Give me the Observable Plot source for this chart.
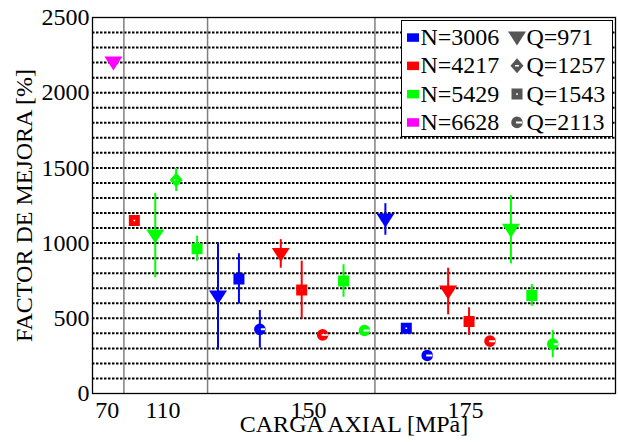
<!DOCTYPE html>
<html><head><meta charset="utf-8">
<script src="https://cdn.jsdelivr.net/npm/d3@7"></script>
<script src="https://cdn.jsdelivr.net/npm/@observablehq/plot@0.6"></script>
<style>
body{margin:0;background:#fff;}
#wrap{position:relative;width:618px;height:442px;}
#legend{position:absolute;left:401px;top:20px;}
svg, svg text{font-family:"Liberation Serif","Times New Roman",Times,"DejaVu Serif",serif !important;}
</style></head><body><div id="wrap"></div>
<script>
// ---- data ----
const xTickLabels = ["70", "110", "150", "175"];
const groupOf = ["70","110","110","110","110","150","150","150","150","150","150","150","150","175","175","175","175","175","175","175","175","175"];
const seriesN = ["6628","4217","5429","5429","5429","3006","3006","3006","4217","4217","4217","5429","5429","3006","3006","3006","4217","4217","4217","5429","5429","5429"];
const seriesQ = ["971","1543","971","1257","1543","971","1543","2113","971","1543","2113","1543","2113","971","1543","2113","971","1543","2113","971","1543","2113"];
const values = [2200,1150,1050,1420,963,645,762,427,928,688,390,748,419,1157,434,253,678,478,348,1089,652,328];
const errors = [0,0,280,77,83,355,167,125,95,192,0,108,0,105,0,0,155,92,0,227,72,91];
const nLabels = ["3006", "4217", "5429", "6628"];
const qLabels = ["971", "1257", "1543", "2113"];
const yTitle = "FACTOR DE MEJORA [%]";
const xTitle = "CARGA AXIAL [MPa]";

// ---- styling ----
const nColors = ["#0000ff", "#ff0000", "#00ff00", "#ff00ff"];
const xTickPos = [0.7, 3.37, 10.33, 17.83];
const FONT = "\"Liberation Serif\", \"Times New Roman\", Times, \"DejaVu Serif\", serif";

function hole(c, x0, y0, x1, y1) { // counter-winding rectangle -> hole
  c.moveTo(x0, y0); c.lineTo(x0, y1); c.lineTo(x1, y1); c.lineTo(x1, y0); c.closePath();
}
const triDown = {draw(c) { c.moveTo(-9, -6); c.lineTo(9, -6); c.lineTo(0, 8); c.closePath(); }};
const diamond = {draw(c) { c.moveTo(0, -7.5); c.lineTo(6.5, 0); c.lineTo(0, 7.5); c.lineTo(-6.5, 0); c.closePath(); hole(c, -2, -0.8, 2, 0.8); }};
const square = {draw(c) { c.moveTo(-5.5, -5.5); c.lineTo(5.5, -5.5); c.lineTo(5.5, 5.5); c.lineTo(-5.5, 5.5); c.closePath(); hole(c, -0.8, -0.8, 0.8, 0.8); }};
const circle = {draw(c) { const r = 5.8; c.moveTo(r, 0); c.arc(0, 0, r, 0, 2 * Math.PI); hole(c, -1, -1, r - 0.6, 1); }};
const qSymbols = [triDown, diamond, square, circle];

const data = values.map((v, i) => ({slot: i + 1, g: groupOf[i], n: seriesN[i], q: seriesQ[i], v, e: errors[i]}));
const seps = data.slice(1).filter((d, i) => d.g !== data[i].g).map(d => d.slot - 0.5);

const chart = Plot.plot({
  width: 618, height: 442,
  marginLeft: 92, marginRight: 3, marginTop: 17, marginBottom: 49,
  style: {fontFamily: FONT, fontSize: "24px", color: "#000", background: "#fff", overflow: "visible"},
  x: {domain: [0, 25]},
  y: {domain: [0, 2500]},
  color: {domain: nLabels, range: nColors},
  symbol: {domain: qLabels, range: qSymbols},
  marks: [
    Plot.ruleY(d3.range(100, 2500, 100), {stroke: "#000", strokeWidth: 2, strokeDasharray: "2.5,1.5"}),
    Plot.ruleX(seps, {stroke: "#808080", strokeWidth: 1.5}),
    Plot.ruleX(data.filter(d => d.e > 0), {x: "slot", y1: d => d.v - d.e, y2: d => d.v + d.e, stroke: "n", strokeWidth: 2}),
    Plot.dot(data, {x: "slot", y: "v", fill: "n", symbol: "q", r: 6, stroke: "none"}),
    Plot.axisY({ticks: d3.range(0, 2501, 500), tickFormat: d => String(d), tickSize: 0, tickPadding: 3, label: null, fontSize: 24}),
    Plot.axisX({ticks: xTickPos, tickFormat: d => xTickLabels[xTickPos.indexOf(d)], tickSize: 0, tickPadding: 7, label: null, fontSize: 24}),
    Plot.text([yTitle], {text: d => d, frameAnchor: "left", textAnchor: "middle", rotate: -90, dx: -68, fontSize: 24, lineAnchor: "middle"}),
    Plot.text([xTitle], {text: d => d, frameAnchor: "bottom", textAnchor: "middle", dy: 31, fontSize: 24, lineAnchor: "middle"}),
    Plot.frame({stroke: "#000", strokeWidth: 1.3})
  ]
});
document.getElementById("wrap").appendChild(chart);

// ---- legend ----
const L = d3.select("#wrap").append("svg").attr("id", "legend").attr("width", 213).attr("height", 118)
  .style("font-size", "24px");
L.append("rect").attr("x", 0.5).attr("y", 0.5).attr("width", 211).attr("height", 116).attr("fill", "#fff").attr("stroke", "#000");
nLabels.forEach((n, i) => {
  const by = 25 + i * 28.3;
  L.append("rect").attr("x", 6).attr("y", by - 11.7).attr("width", 12).attr("height", 8.5).attr("fill", nColors[i]);
  L.append("text").attr("x", 19.5).attr("y", by).text("N=" + n);
  L.append("path").attr("transform", `translate(116,${by - 7.5})`).attr("d", d3.symbol(qSymbols[i])()).attr("fill", "#555");
  L.append("text").attr("x", 125.5).attr("y", by).text("Q=" + qLabels[i]);
});
</script>
</body></html>
